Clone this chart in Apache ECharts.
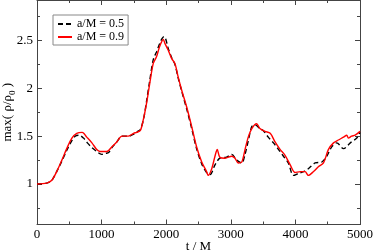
<!DOCTYPE html>
<html>
<head>
<meta charset="utf-8">
<script src="https://cdn.jsdelivr.net/npm/echarts@6/dist/echarts.min.js"></script>
<style>html,body{margin:0;padding:0;background:#fff}#c{width:374px;height:252px}</style>
</head>
<body>
<div id="c"></div>
<script>
// a/M = 0.5 (black dashed)
const tA = [0,150,230,305,385,460,520,590,650,720,780,850,925,1000,1060,1110,1160,1235,1315,1415,1495,1560,1600,1650,1695,1745,1800,1850,1900,1935,1965,1990,2030,2085,2135,2185,2240,2315,2395,2470,2550,2625,2680,2755,2830,2935,3015,3090,3170,3220,3270,3325,3375,3450,3500,3580,3660,3740,3815,3890,3970,4045,4125,4200,4305,4410,4485,4565,4640,4745,4850,4950,5000];
const vA = [1.0,1.01,1.04,1.13,1.24,1.35,1.43,1.50,1.51,1.48,1.43,1.38,1.34,1.31,1.32,1.33,1.38,1.44,1.50,1.50,1.52,1.55,1.57,1.68,1.86,2.08,2.30,2.38,2.47,2.52,2.54,2.52,2.42,2.32,2.25,2.11,1.97,1.79,1.58,1.37,1.21,1.12,1.10,1.20,1.27,1.28,1.31,1.25,1.22,1.31,1.45,1.60,1.62,1.58,1.56,1.49,1.43,1.36,1.29,1.22,1.09,1.11,1.13,1.16,1.22,1.23,1.29,1.39,1.43,1.37,1.43,1.48,1.54];
// a/M = 0.9 (red solid)
const tB = [0,150,230,305,385,460,540,615,700,770,850,925,975,1080,1160,1235,1315,1415,1495,1545,1600,1645,1695,1745,1800,1850,1900,1955,1980,2030,2085,2135,2185,2240,2315,2395,2470,2550,2625,2650,2705,2755,2790,2830,2910,3015,3065,3115,3170,3220,3270,3325,3400,3450,3530,3610,3685,3765,3840,3920,3995,4075,4150,4200,4280,4355,4435,4510,4590,4665,4745,4795,4820,4870,4925,5000];
const vB = [1.0,1.01,1.04,1.13,1.25,1.37,1.48,1.53,1.54,1.49,1.43,1.36,1.34,1.34,1.39,1.44,1.50,1.50,1.53,1.54,1.56,1.67,1.84,2.05,2.26,2.33,2.44,2.51,2.47,2.40,2.31,2.26,2.12,1.98,1.81,1.60,1.39,1.23,1.13,1.09,1.16,1.29,1.36,1.28,1.27,1.29,1.27,1.22,1.23,1.36,1.49,1.58,1.63,1.58,1.55,1.53,1.44,1.36,1.30,1.20,1.12,1.13,1.13,1.09,1.13,1.18,1.22,1.36,1.43,1.46,1.49,1.51,1.48,1.50,1.51,1.55];
const names = ['a/M = 0.5', 'a/M = 0.9'];
const yMajor = [1, 1.5, 2, 2.5];
const yMinor = [0.75, 1.25, 1.75, 2.25, 2.75];

const FONT = 'Liberation Serif';
const axisCol = '#444';
const YMIN = 0.577, YMAX = 2.923;

function yAx(pos, labels, ticks, len) {
  return {
    type: 'value', position: pos, min: YMIN, max: YMAX,
    splitLine: {show: false},
    axisLine: {show: true, lineStyle: {color: axisCol, width: 1}},
    axisTick: {show: true, inside: true, length: len, customValues: ticks, lineStyle: {color: axisCol}},
    axisLabel: labels ? {show: true, customValues: yMajor, margin: 4, color: '#000', fontFamily: FONT, fontSize: 13,
      formatter: v => String(v)} : {show: false}
  };
}
function xAx(pos, labels) {
  return {
    type: 'value', position: pos, min: 0, max: 5000, interval: 1000,
    splitLine: {show: false},
    axisLine: {show: true, lineStyle: {color: axisCol, width: 1}},
    axisTick: {show: true, inside: true, length: 5, lineStyle: {color: axisCol}},
    minorTick: {show: true, splitNumber: 2, length: 3, lineStyle: {color: axisCol}},
    axisLabel: labels ? {show: true, margin: 4, color: '#000', fontFamily: FONT, fontSize: 13,
      formatter: v => String(v)} : {show: false}
  };
}

const chart = echarts.init(document.getElementById('c'), null, {renderer: 'canvas'});
const xb = xAx('bottom', true);
xb.name = 't / M'; xb.nameLocation = 'middle'; xb.nameGap = 16; xb.nameMoveOverlap = false;
xb.nameTextStyle = {fontFamily: FONT, fontSize: 13, color: '#000'};
const yl = yAx('left', true, yMajor, 5);
yl.name = 'max( ρ/ρ{sub|0} )'; yl.nameLocation = 'middle'; yl.nameGap = 20; yl.nameMoveOverlap = false;
yl.nameTextStyle = {fontFamily: FONT, fontSize: 13, color: '#000',
  rich: {sub: {fontFamily: FONT, fontSize: 9, color: '#000', verticalAlign: 'bottom', lineHeight: 18}}};

chart.setOption({
  animation: false,
  grid: {left: 37, right: 14, top: 0, bottom: 27.5, containLabel: false, outerBoundsMode: 'none'},
  xAxis: [xb, xAx('top', false)],
  yAxis: [yl, yAx('left', false, yMinor, 3), yAx('right', false, yMajor, 5), yAx('right', false, yMinor, 3)],
  legend: {
    orient: 'vertical', left: 53, top: 15,
    padding: [3, 4, 2, 4], itemGap: 1, itemWidth: 14, itemHeight: 8,
    borderColor: '#888', borderWidth: 1, backgroundColor: '#fff',
    itemStyle: {opacity: 0},
    textStyle: {fontFamily: FONT, fontSize: 12, color: '#000', lineHeight: 11},
    data: names
  },
  series: [
    {name: names[0], type: 'line', data: tA.map((t, i) => [t, vA[i]]), symbol: 'none', smooth: 0.3,
     lineStyle: {color: '#000', width: 1.4, type: [5, 3]}, itemStyle: {color: '#000'}, z: 2},
    {name: names[1], type: 'line', data: tB.map((t, i) => [t, vB[i]]), symbol: 'none', smooth: 0.3,
     lineStyle: {color: '#ff0000', width: 1.4}, itemStyle: {color: '#ff0000'}, z: 3}
  ]
});
</script>
</body>
</html>
